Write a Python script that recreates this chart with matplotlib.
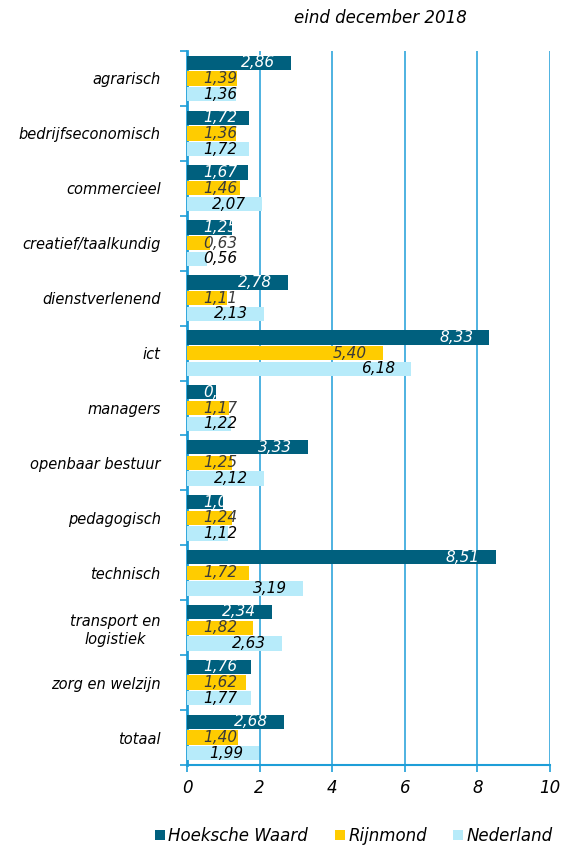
import numpy as np
from matplotlib import pyplot as plt
from matplotlib.patches import Patch

categories = ['agrarisch', 'bedrijfseconomisch', 'commercieel', 'creatief/taalkundig',
              'dienstverlenend', 'ict', 'managers', 'openbaar bestuur', 'pedagogisch',
              'technisch', 'transport en\nlogistiek', 'zorg en welzijn', 'totaal']
hoeksche_waard = [2.86, 1.72, 1.67, 1.25, 2.78, 8.33, 0.79, 3.33, 1.00, 8.51, 2.34, 1.76, 2.68]
rijnmond = [1.39, 1.36, 1.46, 0.63, 1.11, 5.40, 1.17, 1.25, 1.24, 1.72, 1.82, 1.62, 1.40]
nederland = [1.36, 1.72, 2.07, 0.56, 2.13, 6.18, 1.22, 2.12, 1.12, 3.19, 2.63, 1.77, 1.99]
series_names = ['Hoeksche Waard', 'Rijnmond', 'Nederland']

colors = ['#00607E', '#FFCC00', '#B7EBFA']
text_colors = ['white', '#3a3a3a', 'black']
axis_blue = '#1E9ED8'

fig = plt.figure(figsize=(5.67, 8.47), dpi=100)
ax = fig.add_axes([187/567, 1 - 765/847, 363/567, 714/847])

y = np.arange(len(categories))
offsets = [-0.286, 0.0, 0.286]
bar_h = 0.26

for vals, off, col, tcol in zip([hoeksche_waard, rijnmond, nederland], offsets, colors, text_colors):
    ax.barh(y + off, vals, height=bar_h, color=col, zorder=3)
    for yi, v in zip(y, vals):
        # label sits just inside the bar end, but never further left than a fixed spot
        right = max(v - 0.44, 1.40)
        ax.text(right, yi + off, f'{v:.2f}'.replace('.', ','), ha='right', va='center',
                color=tcol, fontsize=11, style='italic', zorder=4)

ax.set_xlim(0, 10)
ax.set_ylim(len(categories) - 0.5, -0.5)
ax.set_xticks(range(0, 11, 2))
ax.set_xticklabels([str(t) for t in range(0, 11, 2)], fontsize=12, style='italic')
ax.set_yticks(y)
ax.set_yticklabels(categories, fontsize=10.5, style='italic', multialignment='center')
ax.set_yticks(np.arange(-0.5, len(categories)), minor=True)
ax.tick_params(axis='y', which='major', length=0, pad=19)
ax.tick_params(axis='y', which='minor', length=5, width=1.2, color=axis_blue)
ax.tick_params(axis='x', length=5, width=1.2, color=axis_blue, pad=5)

ax.grid(axis='x', color=axis_blue, linewidth=1.1, zorder=0)
for side in ['top', 'right']:
    ax.spines[side].set_visible(False)
ax.spines['left'].set_color(axis_blue)
ax.spines['left'].set_linewidth(2)
ax.spines['bottom'].set_color(axis_blue)
ax.spines['bottom'].set_linewidth(1.5)

fig.text(380/567, 1 - 18/847, 'eind december 2018', ha='center', va='center',
         fontsize=12, style='italic')

handles = [Patch(facecolor=c, edgecolor='none') for c in colors]
leg = fig.legend(handles, series_names, loc='center left', ncol=3,
                 bbox_to_anchor=(140/567, 1 - 836/847), frameon=False,
                 prop={'size': 12, 'style': 'italic'}, handlelength=0.6, handleheight=0.6,
                 handletextpad=0.2, columnspacing=1.6)

fig.savefig('out.png', dpi=100)
